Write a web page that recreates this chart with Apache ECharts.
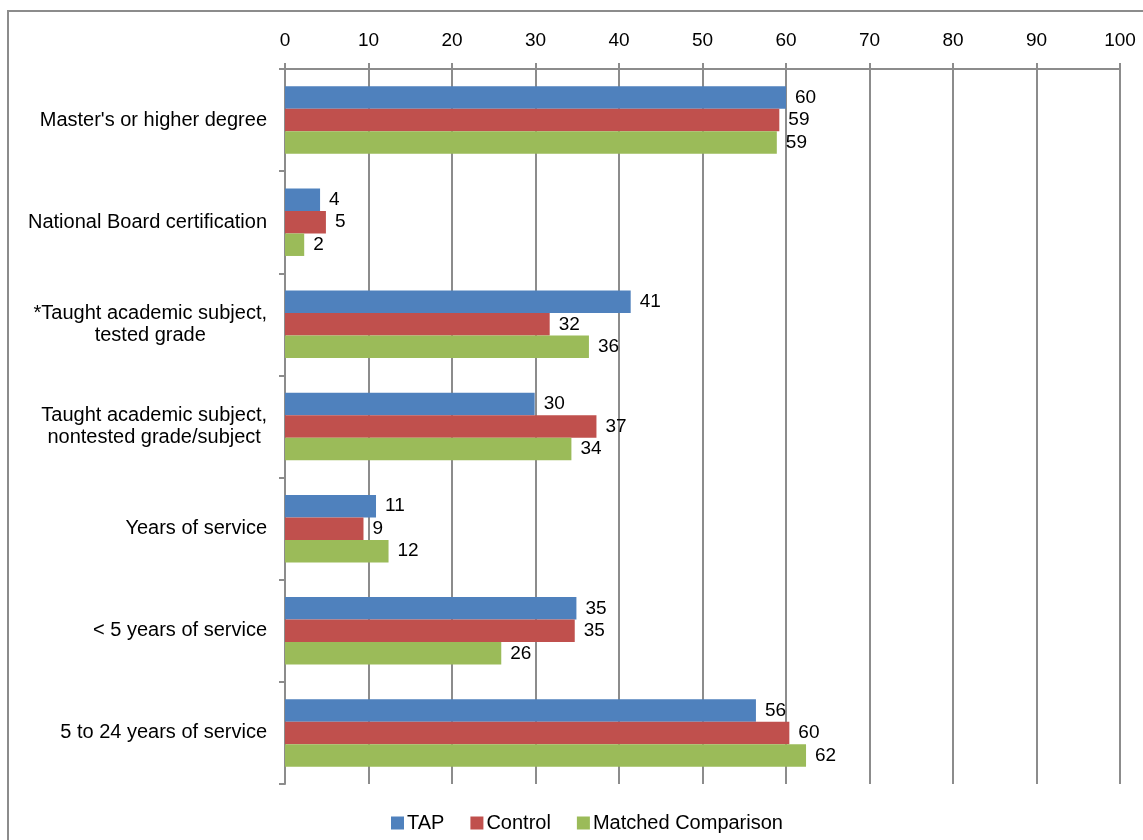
<!DOCTYPE html>
<html>
<head>
<meta charset="utf-8">
<script src="https://cdn.jsdelivr.net/npm/echarts@6/dist/echarts.min.js"></script>
<style>
html,body{margin:0;padding:0;background:#fff;}
#chart{width:1143px;height:840px;}
</style>
</head>
<body>
<div id="chart"></div>
<script>
const categories = [
  "Master's or higher degree",
  "National Board certification",
  "*Taught academic subject,\ntested grade",
  "Taught academic subject,\nnontested grade/subject",
  "Years of service",
  "< 5 years of service",
  "5 to 24 years of service"
];
const tapValues = [60.0, 4.2, 41.4, 29.9, 10.9, 34.9, 56.4];
const controlValues = [59.2, 4.9, 31.7, 37.3, 9.4, 34.7, 60.4];
const matchedValues = [58.9, 2.3, 36.4, 34.3, 12.4, 25.9, 62.4];
const seriesNames = ["TAP", "Control", "Matched Comparison"];
const xTicks = [0, 10, 20, 30, 40, 50, 60, 70, 80, 90, 100];

const colors = ['#4F81BD', '#C0504D', '#9BBB59'];
const FONT = 'Liberation Sans, Arial, sans-serif';
const gray = '#8c8c8c';

const chart = echarts.init(document.getElementById('chart'));

function mkSeries(name, data, color) {
  return {
    name: name,
    type: 'bar',
    data: data,
    barWidth: 22.5,
    barGap: '0%',
    itemStyle: { color: color },
    label: {
      show: true,
      position: 'right',
      distance: 9,
      color: '#000',
      fontFamily: FONT,
      fontSize: 19,
      formatter: p => String(Math.round(p.value))
    }
  };
}

chart.setOption({
  animation: false,
  backgroundColor: '#fff',
  color: colors,
  graphic: [{
    type: 'rect',
    shape: { x: 8, y: 11, width: 1300, height: 1000 },
    style: { fill: 'none', stroke: gray, lineWidth: 2 },
    silent: true,
    z: -1
  }],
  grid: { left: 285, right: 23, top: 69, bottom: 56, containLabel: false },
  legend: {
    data: seriesNames,
    left: 386,
    top: 808,
    icon: 'rect',
    itemWidth: 13,
    itemHeight: 13,
    itemGap: 26,
    textStyle: { fontFamily: FONT, fontSize: 20, color: '#000', padding: [0, 0, 0, -2] }
  },
  xAxis: {
    type: 'value',
    position: 'top',
    min: 0,
    max: 100,
    interval: 10,
    axisLine: { show: true, lineStyle: { color: gray, width: 2 } },
    axisTick: { show: true, length: 6, lineStyle: { color: gray, width: 2 } },
    axisLabel: {
      margin: 19,
      color: '#000',
      fontFamily: FONT,
      fontSize: 19,
      formatter: v => xTicks.indexOf(v) >= 0 ? String(v) : ''
    },
    splitLine: { show: true, lineStyle: { color: gray, width: 2 } }
  },
  yAxis: {
    type: 'category',
    data: categories,
    inverse: true,
    axisLine: { show: true, lineStyle: { color: gray, width: 2 } },
    axisTick: { show: true, length: 6, alignWithLabel: false, lineStyle: { color: gray, width: 2 } },
    axisLabel: {
      margin: 18,
      color: '#000',
      fontFamily: FONT,
      fontSize: 20,
      lineHeight: 22,
      formatter: v => v.split('\n').map(s => '{c|' + s + '}').join('\n'),
      rich: {
        c: { align: 'center', fontFamily: FONT, fontSize: 20, lineHeight: 22, color: '#000' }
      }
    },
    splitLine: { show: false }
  },
  series: [
    mkSeries(seriesNames[0], tapValues, colors[0]),
    mkSeries(seriesNames[1], controlValues, colors[1]),
    mkSeries(seriesNames[2], matchedValues, colors[2])
  ]
});
</script>
</body>
</html>
